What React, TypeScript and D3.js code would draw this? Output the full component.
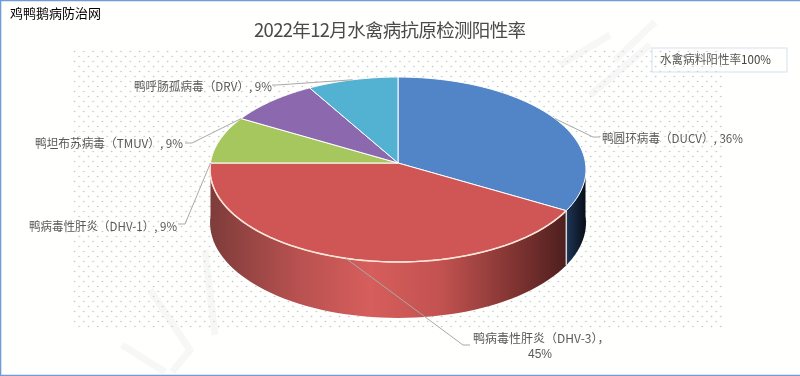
import React from "react";
import * as d3 from "d3";

const categories = ["鸭圆环病毒（DUCV）", "鸭病毒性肝炎（DHV-3）", "鸭病毒性肝炎（DHV-1）", "鸭坦布苏病毒（TMUV）", "鸭呼肠孤病毒（DRV）"];
const values = [36, 45, 9, 9, 9];
const percentLabels = ["36%", "45%", "9%", "9%", "9%"];
const sliceColors = ["#5285c8", "#cf5655", "#a5c75e", "#8c69ae", "#53b2d2"];

const titleText = "2022年12月水禽病抗原检测阳性率";
const sourceText = "鸡鸭鹅病防治网";
const boxText = "水禽病料阳性率";
const boxValue = "100%";

// label layout: [leader angle in degrees, elbow x, elbow y, tail x, text x, text width, text y]
const labelLayout: [number, number, number, number, number, number, number][] = [
  [60, 593, 137, 600, 602, 141, 137],
  [195, 463, 345, 470, 473, 131, 339],
  [270, 185, 224, 178, 29, 148, 225],
  [300, 192, 143, 185, 35, 148, 142],
  [345, 277, 85, 272, 134, 138, 85],
];

const W = 800, H = 376;
const CX = 398, CY = 163, RX = 187.5, RY = 92, PERSP = -0.0703;

function project(a: number, drop = 0): [number, number] {
  const u = Math.sin(a), v = -Math.cos(a);
  const d = 1 + PERSP * v;
  const depth = drop ? drop + 3 * v : 0;
  return [CX + (RX * u) / d, CY + (RY * v) / d + depth];
}
const DEPTH = 53;
const line = d3.line();
const samples = (a0: number, a1: number) =>
  d3.range(0, 61).map((i) => a0 + ((a1 - a0) * i) / 60);

const pieGen = d3.pie<number>().sort(null).value((d) => d);
const arcs = pieGen(values);
const rad = (deg: number) => (deg * Math.PI) / 180;

function topPath(a0: number, a1: number) {
  return line([[CX, CY], ...samples(a0, a1).map((a) => project(a))]) + "Z";
}
function sidePath(a0: number, a1: number) {
  const s = samples(a0, a1);
  return line([...s.map((a) => project(a)), ...s.slice().reverse().map((a) => project(a, DEPTH))]) + "Z";
}

export default function App() {
  const blue = arcs[0], red = arcs[1];
  const sepTop = project(blue.endAngle);
  const sepBot = project(blue.endAngle, DEPTH);
  return (
    <svg
      width={W}
      height={H}
      viewBox={`0 0 ${W} ${H}`}
      style={{ position: "fixed", left: 0, top: 0, filter: "blur(0.45px)", fontFamily: "'Noto Sans CJK SC', sans-serif" }}
    >
      <defs>
        <pattern id="dots" width={9.3} height={10} patternUnits="userSpaceOnUse" x={73} y={50}>
          <circle cx={1.5} cy={1.5} r={0.8} fill="#bcc0c8" />
          <circle cx={6.15} cy={6.5} r={0.8} fill="#bcc0c8" />
        </pattern>
        <linearGradient id="redSide" gradientUnits="userSpaceOnUse" x1={209} x2={566} y1={0} y2={0}>
          <stop offset="0" stopColor="#7d3c3a" />
          <stop offset="0.25" stopColor="#b85150" />
          <stop offset="0.45" stopColor="#d65e5c" />
          <stop offset="0.65" stopColor="#c25250" />
          <stop offset="0.85" stopColor="#823533" />
          <stop offset="1" stopColor="#4e1f1e" />
        </linearGradient>
        <linearGradient id="blueSide" gradientUnits="userSpaceOnUse" x1={566} x2={586} y1={0} y2={0}>
          <stop offset="0" stopColor="#1d3657" />
          <stop offset="1" stopColor="#090e17" />
        </linearGradient>
      </defs>

      <rect width={W} height={H} fill="#fffffd" />
      <rect x={73} y={50} width={649} height={280} fill="url(#dots)" />

      {/* faint watermark strokes */}
      <g fill="none" stroke="#e4e6ea" strokeOpacity={0.3} strokeWidth={7}>
        <path d="M122 345 L165 372 M150 290 L190 350 L172 372 M205 250 L215 335" />
        <path d="M590 95 L650 45 M615 60 L655 22 M560 65 L610 35" />
      </g>

      {/* sides */}
      <path d={sidePath(rad(90), blue.endAngle)} fill="url(#blueSide)" />
      <path d={sidePath(red.startAngle, red.endAngle)} fill="url(#redSide)" />
      <line x1={sepTop[0]} y1={sepTop[1]} x2={sepBot[0]} y2={sepBot[1]} stroke="#d4d4d4" strokeWidth={1.5} />

      {/* top faces */}
      {arcs.map((d, i) => (
        <path key={i} d={topPath(d.startAngle, d.endAngle)} fill={sliceColors[i]} stroke="#fff" strokeWidth={1} strokeLinejoin="round" />
      ))}
      <path d={line(samples(red.startAngle, red.endAngle).map((a) => project(a))) as string} fill="none" stroke="#fde3d8" strokeWidth={1.6} />

      {/* leaders and labels */}
      {categories.map((c, i) => {
        const [deg, ex, ey, tx, lx, lw, ly] = labelLayout[i];
        const p = project(rad(deg));
        const isWrapped = i === 1;
        return (
          <g key={c}>
            <path d={line([p, [ex, ey], [tx, ey]]) as string} fill="none" stroke="#a9a9a9" strokeWidth={1} />
            {isWrapped ? (
              <>
                <text x={lx} y={ly + 3.5} fontSize={12} fill="#595959">{`${c}，`}</text>
                <text x={528} y={ly + 18.5} fontSize={12} fill="#595959" style={{ fontFamily: "'Liberation Sans', sans-serif" }}>
                  {percentLabels[i]}
                </text>
              </>
            ) : (
              <text x={lx} y={ly} dominantBaseline="central" fontSize={12} fill="#595959" textLength={lw} lengthAdjust="spacingAndGlyphs">
                {`${c}, ${percentLabels[i]}`}
              </text>
            )}
          </g>
        );
      })}

      {/* title, source, box */}
      <text x={390} y={29} dominantBaseline="central" textAnchor="middle" fontSize={18.5} fill="#4a4a4a" textLength={272}>
        {titleText}
      </text>
      <text x={10} y={12} dominantBaseline="central" fontSize={13} fill="#000" textLength={91}>
        {sourceText}
      </text>
      <rect x={652} y={48} width={135} height={24} fill="none" stroke="#d5e0f3" strokeWidth={1} />
      <text x={660} y={64} fontSize={12} fill="#595959" textLength={111} lengthAdjust="spacingAndGlyphs">
        {boxText}
        <tspan fill="#444">{boxValue}</tspan>
      </text>

      {/* image frame */}
      <path d={line([[0.5, H], [0.5, 0.5], [W, 0.5]]) as string} fill="none" stroke="#6f9bd8" strokeWidth={1.6} />
      <path d={line([[0, H - 0.5], [W, H - 0.5]]) as string} fill="none" stroke="#6f9bd8" strokeWidth={1.6} />
    </svg>
  );
}
